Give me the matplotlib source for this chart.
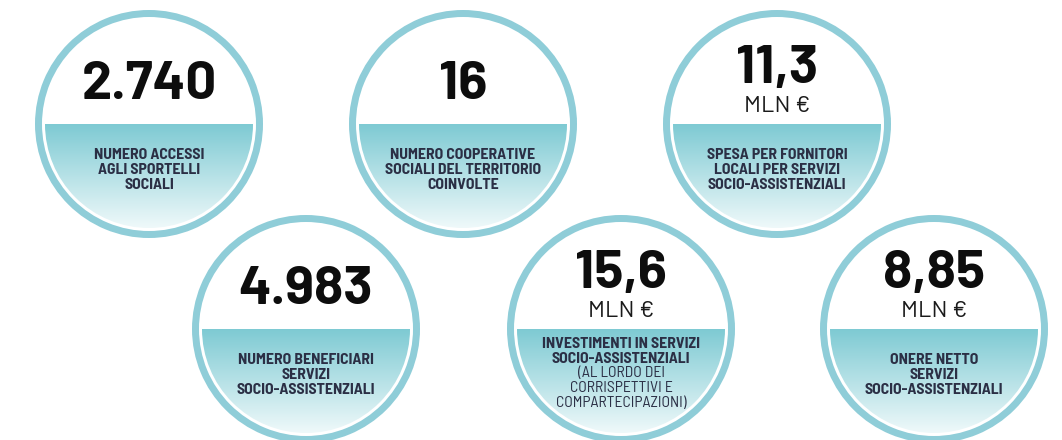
import numpy as np
import matplotlib
matplotlib.use("Agg")
import matplotlib.pyplot as plt
from matplotlib import patches
from matplotlib.colors import to_rgb

# ---- data ----
values = ["2.740", "16", "11,3", "4.983", "15,6", "8,85"]
units = ["", "", "MLN €", "", "MLN €", "MLN €"]
labels_bold = [
    ["NUMERO ACCESSI", "AGLI SPORTELLI", "SOCIALI"],
    ["NUMERO COOPERATIVE", "SOCIALI DEL TERRITORIO", "COINVOLTE"],
    ["SPESA PER FORNITORI", "LOCALI PER SERVIZI", "SOCIO-ASSISTENZIALI"],
    ["NUMERO BENEFICIARI", "SERVIZI", "SOCIO-ASSISTENZIALI"],
    ["INVESTIMENTI IN SERVIZI", "SOCIO-ASSISTENZIALI"],
    ["ONERE NETTO", "SERVIZI", "SOCIO-ASSISTENZIALI"],
]
labels_regular = [
    [], [], [], [],
    ["(AL LORDO DEI", "CORRISPETTIVI E", "COMPARTECIPAZIONI)"],
    [],
]

# ---- layout ----
W, H = 1062, 440
centers = [(149, 124), (463, 124), (777, 124), (306, 329), (621, 329), (934, 329)]
R = 114          # outer radius
RING = 7         # ring width
R_IN = 104       # inner (gradient) radius
ring_color = "#8fcdd8"
top_color = np.array(to_rgb("#7ecad3"))
bot_color = np.array(to_rgb("#eff9fa"))
text_dark = "#2b2f45"

num_font = ["Barlow", "Roboto", "DejaVu Sans"]
lab_font = ["Barlow Semi Condensed", "Roboto Condensed", "DejaVu Sans"]

fig = plt.figure(figsize=(W / 100, H / 100), dpi=100)
ax = fig.add_axes([0, 0, 1, 1])
ax.set_xlim(0, W)
ax.set_ylim(H, 0)
ax.set_aspect("equal")
ax.axis("off")

grad = np.linspace(0, 1, 256)[:, None, None]
grad_img = top_color[None, None, :] * (1 - grad) + bot_color[None, None, :] * grad
grad_img = np.repeat(grad_img, 4, axis=1)

for i, (cx, cy) in enumerate(centers):
    ax.add_patch(patches.Circle((cx, cy), R, facecolor="white", edgecolor="none", zorder=1))
    ax.add_patch(patches.Wedge((cx, cy), R, 0, 360, width=RING,
                               facecolor=ring_color, edgecolor="none", zorder=3))
    clip = patches.Circle((cx, cy), R_IN, transform=ax.transData)
    im = ax.imshow(grad_img, extent=(cx - R_IN, cx + R_IN, cy + R_IN, cy),
                   origin="upper", interpolation="bilinear", zorder=2, aspect="auto")
    im.set_clip_path(clip)

    has_unit = units[i] != ""
    ax.text(cx, cy - (41 if has_unit else 25), values[i], ha="center", va="baseline",
            fontsize=39, fontweight=700, family=num_font, color="#0d0d0d", zorder=4)
    if has_unit:
        ax.text(cx, cy - 12, units[i], ha="center", va="baseline",
                fontsize=17, fontweight=400, family=num_font, color="#1a1a1a", zorder=4)

    lines = [(t, 700) for t in labels_bold[i]] + [(t, 400) for t in labels_regular[i]]
    n = len(lines)
    sp = 14.8
    mid = cy + 52 - 0.9 * (n - 1)
    first = mid - (n - 1) / 2 * sp
    for k, (t, w) in enumerate(lines):
        ax.text(cx, first + k * sp, t, ha="center", va="baseline",
                fontsize=11.3, fontweight=w, family=lab_font, color=text_dark, zorder=4)

fig.savefig("out.png", dpi=100)
